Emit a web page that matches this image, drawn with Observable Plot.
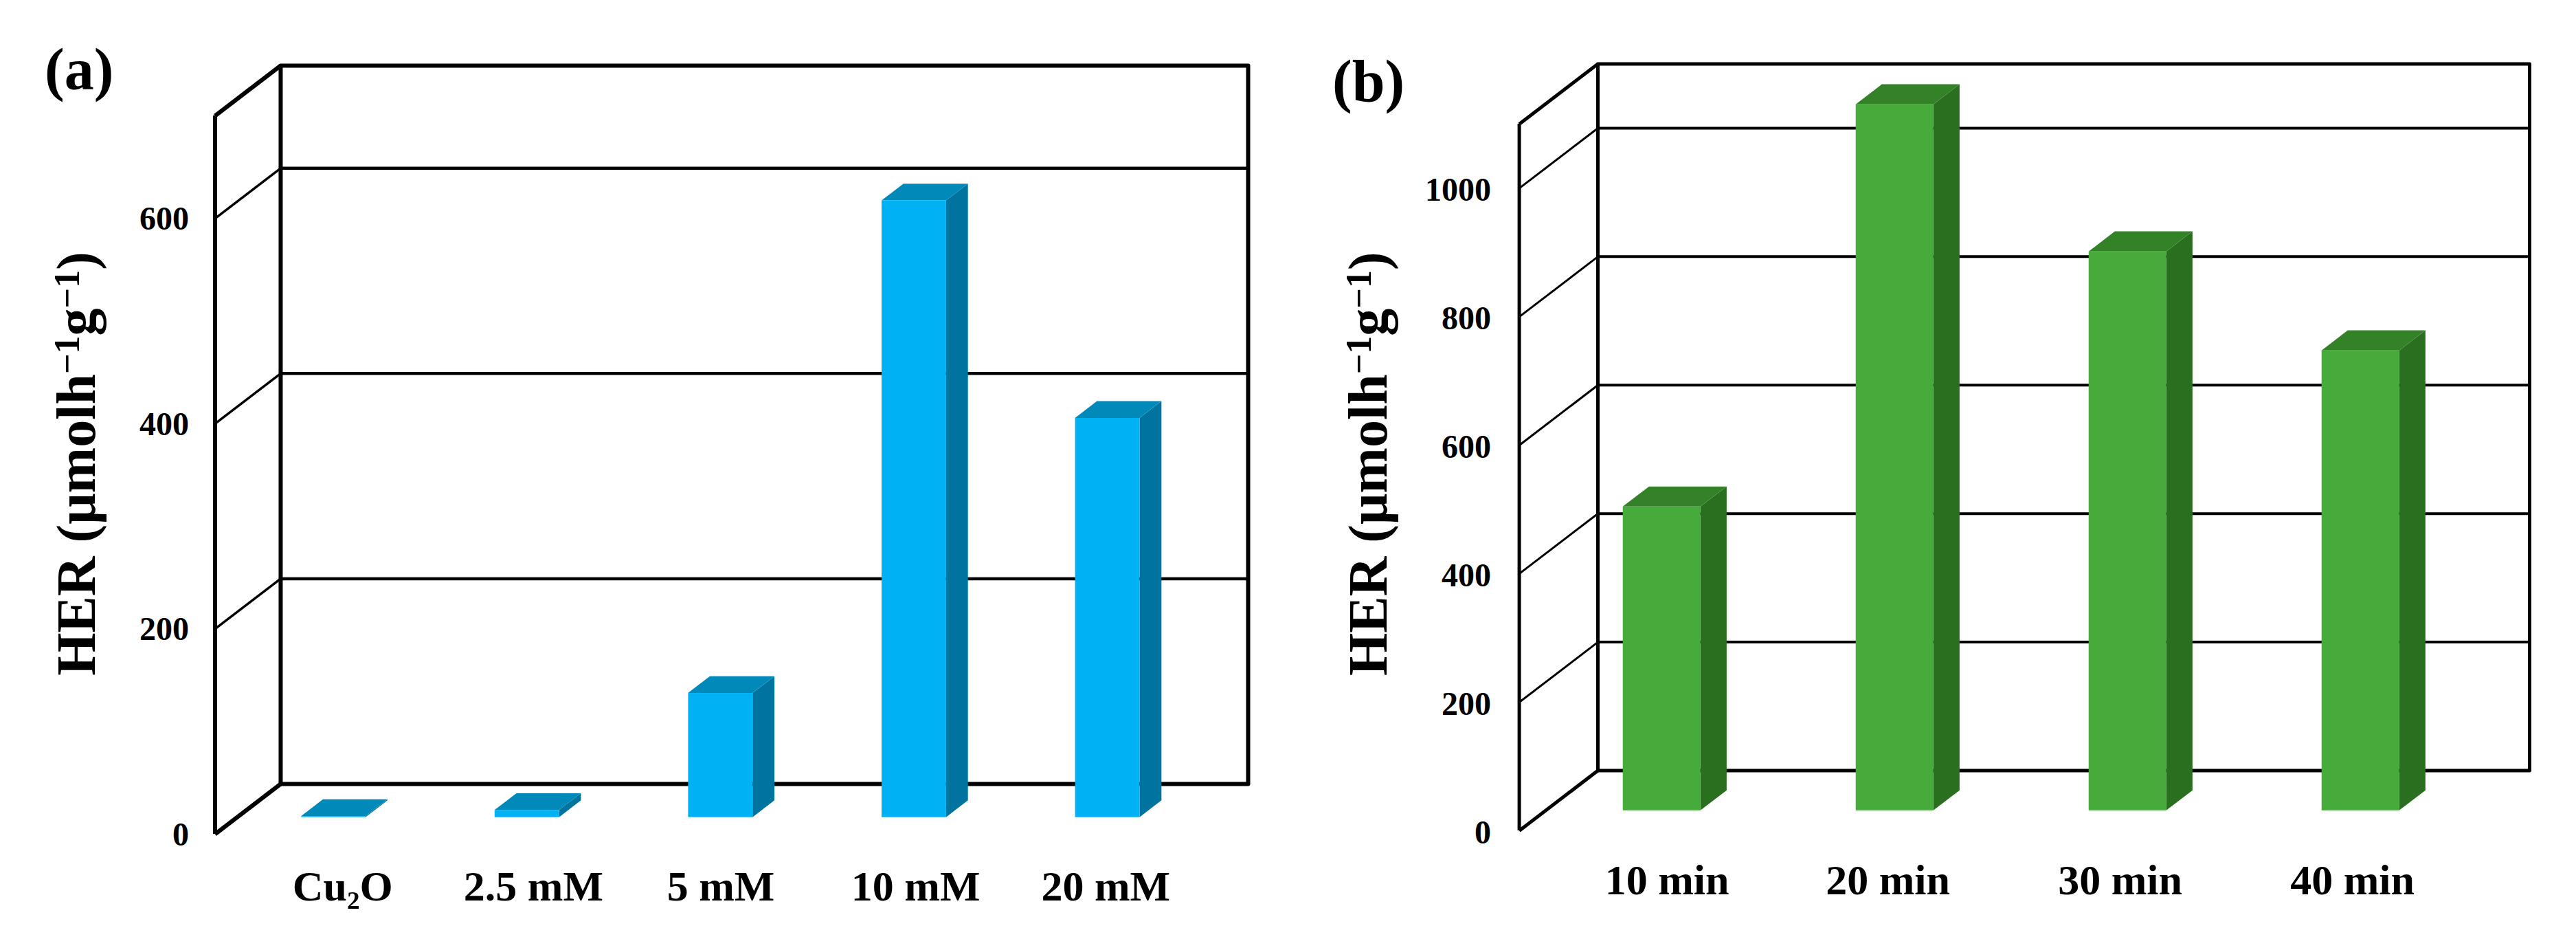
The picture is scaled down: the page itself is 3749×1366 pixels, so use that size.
<!DOCTYPE html>
<html>
<head>
<meta charset="utf-8">
<script src="https://cdn.jsdelivr.net/npm/d3@7"></script>
<script src="https://cdn.jsdelivr.net/npm/@observablehq/plot@0.6"></script>
<style>
html,body{margin:0;padding:0;background:#fff}
#chart{display:flex;width:3749px;height:1366px}
svg{display:block}
</style>
</head>
<body>
<div id="chart"></div>
<script>
const categoriesA = ["Cu₂O", "2.5 mM", "5 mM", "10 mM", "20 mM"];
const valuesA = [1, 7, 121, 601, 389];
const ticksA = [0, 200, 400, 600];
const categoriesB = ["10 min", "20 min", "30 min", "40 min"];
const valuesB = [473, 1099, 870, 716];
const ticksB = [0, 200, 400, 600, 800, 1000];
const yLabelParts = ["HER (μmolh", "−1", "g", "−1", ")"];

function panel(o) {
  const n = o.categories.length;
  const X = (c, d) => c + d * o.depthX;
  const Y = (v, d) => v + d * o.depthY;
  const near = 1 / 3, far = 2 / 3;
  const bars = o.values.map((v, i) => ({i, v}));
  const sides = bars.flatMap(b => [near, far].map(d => ({i: b.i, x: X(b.i + far, d), y1: Y(0, d), y2: Y(b.v, d)})));
  const tops = bars.flatMap(b => [near, far].map(d => ({i: b.i, y: Y(b.v, d), x1: X(b.i + near, d), x2: X(b.i + far, d)})));
  const wall = [
    {x: X(0, 1), y: Y(0, 1)}, {x: X(0, 1), y: Y(o.yMax, 1)}, {x: X(n, 1), y: Y(o.yMax, 1)}, {x: X(n, 1), y: Y(0, 1)}, {x: X(0, 1), y: Y(0, 1)}
  ];
  const ink = "#000";
  const yLabel = yLabelParts.join("");
  const svg = Plot.plot({
    width: o.width, height: 1366,
    marginLeft: o.marginLeft, marginRight: o.marginRight, marginTop: o.marginTop, marginBottom: o.marginBottom,
    style: {fontFamily: "'Liberation Serif', serif", background: "white", color: "#000"},
    x: {domain: [0, n + o.depthX], axis: null},
    y: {domain: [0, o.yMax + o.depthY], axis: null},
    marks: [
      // back wall gridlines
      Plot.ruleY(o.grid, {x1: X(0, 1), x2: X(n, 1), y: v => Y(v, 1), stroke: ink, strokeWidth: o.gridWidth}),
      // side wall gridlines and corners
      Plot.link(o.grid, {x1: X(0, 0), y1: v => Y(v, 0), x2: X(0, 1), y2: v => Y(v, 1), stroke: ink, strokeWidth: o.gridWidth - 1}),
      Plot.link([0, o.yMax], {x1: X(0, 0), y1: v => Y(v, 0), x2: X(0, 1), y2: v => Y(v, 1), stroke: ink, strokeWidth: o.frameWidth}),
      Plot.line(wall, {x: "x", y: "y", stroke: ink, strokeWidth: o.frameWidth}),
      Plot.ruleX([0], {x: X(0, 0), y1: Y(0, 0), y2: Y(o.yMax, 0), stroke: ink, strokeWidth: o.frameWidth}),
      // 3D bars
      Plot.area(sides, {x1: "x", y1: "y1", y2: "y2", z: "i", fill: o.side}),
      Plot.area(tops, {y1: "y", x1: "x1", x2: "x2", z: "i", fill: o.top}),
      Plot.rect(bars, {x1: b => X(b.i + near, near), x2: b => X(b.i + far, near), y1: Y(0, near), y2: b => Y(b.v, near), fill: o.front, inset: 0}),
      // axes
      Plot.axisY({ticks: o.ticks, tickSize: 0, tickPadding: o.tickPad, dy: o.tickDy, fontSize: 48, fontWeight: "bold", label: null, tickFormat: d => String(d)}),
      o.categories.map((c, i) => Plot.axisX({ticks: [i + 0.5], tickSize: 0, tickPadding: o.catPad, dx: o.catDx[i], fontSize: 62, fontWeight: "bold", label: null, tickFormat: () => c})),
      // titles
      Plot.text([yLabel], {frameAnchor: "left", rotate: -90, text: d => d, dx: o.labelDx, dy: o.labelDy, fontSize: 80, fontWeight: "bold", textAnchor: "middle", fill: ink}),
      Plot.text([o.letter], {frameAnchor: "top-left", text: d => d, dx: o.letterDx, dy: o.letterDy, fontSize: 86, fontWeight: "bold", textAnchor: "start", fill: ink})
    ]
  });
  // superscripts of the unit, as real text
  d3.select(svg).selectAll("text").filter(function () { return this.textContent === yLabel; }).each(function () {
    const t = d3.select(this).text(null);
    let lift = 0;
    yLabelParts.forEach((part, i) => {
      const sup = i % 2 === 1;
      const target = sup ? 23 : 0;
      t.append("tspan").attr("dy", lift - target).attr("font-size", sup ? 52 : 80).text(part);
      lift = target;
    });
  });
  return svg;
}

const chart = document.getElementById("chart");
chart.append(panel({
  categories: categoriesA, values: valuesA, ticks: ticksA, grid: [200, 400, 600], yMax: 700, letter: "(a)",
  width: 1875, marginLeft: 312.5, marginRight: 59, marginTop: 95, marginBottom: 153,
  depthX: 0.339, depthY: 48.9,
  front: "#00b2f4", side: "#00749e", top: "#0089b9", gridWidth: 4.5, frameWidth: 6,
  tickPad: 38, tickDy: 1, catPad: 52, catDx: [45, 41, 32, 34, 29],
  labelDx: -200.5, labelDy: 20, letterDx: -248, letterDy: -27
}));
chart.append(panel({
  categories: categoriesB, values: valuesB, ticks: ticksB, grid: [200, 400, 600, 800, 1000], yMax: 1100, letter: "(b)",
  width: 1874, marginLeft: 335.6, marginRight: 68, marginTop: 92.5, marginBottom: 158,
  depthX: 0.3375, depthY: 93.6,
  front: "#47ab3b", side: "#2a6e1f", top: "#348228", gridWidth: 4, frameWidth: 5,
  tickPad: 41, tickDy: 3, catPad: 48, catDx: [45.5, 28, 27, 26],
  labelDx: -219, labelDy: 24, letterDx: -272, letterDy: -7
}));
</script>
</body>
</html>
